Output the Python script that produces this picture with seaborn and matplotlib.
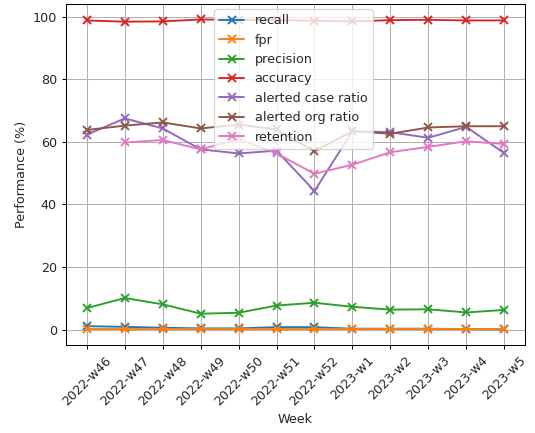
import numpy as np
import matplotlib
matplotlib.use("Agg")
import matplotlib.pyplot as plt
import seaborn as sns

weeks = ["2022-w46", "2022-w47", "2022-w48", "2022-w49", "2022-w50", "2022-w51",
         "2022-w52", "2023-w1", "2023-w2", "2023-w3", "2023-w4", "2023-w5"]
recall = [1.1, 0.9, 0.6, 0.4, 0.4, 0.8, 0.8, 0.3, 0.3, 0.3, 0.2, 0.1]
fpr = [0.05, 0.05, 0.05, 0.05, 0.05, 0.05, 0.05, 0.05, 0.05, 0.05, 0.05, 0.05]
precision = [6.9, 10.1, 8.1, 5.1, 5.4, 7.7, 8.6, 7.3, 6.4, 6.5, 5.5, 6.3]
accuracy = [98.8, 98.4, 98.5, 99.1, 99.0, 98.9, 98.7, 98.5, 98.9, 99.0, 98.8, 98.8]
alerted_case_ratio = [62.3, 67.5, 64.3, 57.6, 56.3, 57.2, 44.3, 63.4, 63.1, 61.3, 64.8, 56.4]
alerted_org_ratio = [63.8, 65.2, 66.2, 64.3, 65.5, 64.0, 57.0, 63.4, 62.6, 64.6, 65.0, 65.0]
retention = [np.nan, 59.8, 60.6, 57.6, 60.9, 56.3, 49.8, 52.7, 56.7, 58.4, 60.2, 59.3]

series = {
    "recall": recall,
    "fpr": fpr,
    "precision": precision,
    "accuracy": accuracy,
    "alerted case ratio": alerted_case_ratio,
    "alerted org ratio": alerted_org_ratio,
    "retention": retention,
}

sns.set_style("white")
plt.rcParams['font.family'] = ['DejaVu Sans']
DPI = 92
fig = plt.figure(figsize=(535 / DPI, 433 / DPI), dpi=DPI)
ax = fig.add_axes([66 / 535, 1 - 345 / 433, (525 - 66) / 535, (345 - 4) / 433])
colors = sns.color_palette("tab10")
for i, (name, vals) in enumerate(series.items()):
    sns.lineplot(x=weeks, y=vals, marker="x", markersize=6, markeredgewidth=1.5,
                 markeredgecolor=colors[i], color=colors[i], label=name, ax=ax,
                 sort=False, linewidth=1.5)
ax.grid(True, color="#b0b0b0", linewidth=0.8)
for s in ax.spines.values():
    s.set_color("black")
    s.set_linewidth(0.8)
ax.tick_params(axis="both", which="both", length=3.5, width=0.8, color="black",
               bottom=True, left=True, labelsize=10)
ax.set_xlabel("Week")
ax.set_ylabel("Performance (%)")
plt.setp(ax.get_xticklabels(), rotation=45)
ax.legend(loc="upper left", bbox_to_anchor=(0.322, 0.985), borderaxespad=0,
          fontsize=10, framealpha=0.8)
fig.savefig("out.png", dpi=DPI)
